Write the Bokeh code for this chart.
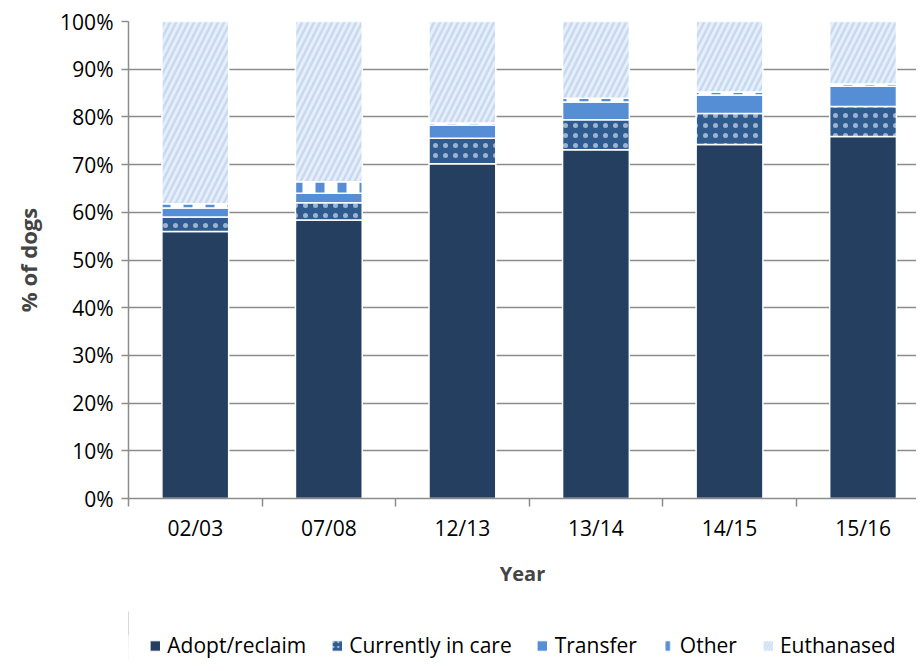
from bokeh.plotting import figure
from bokeh.layouts import column
from bokeh.models import ColumnDataSource, FixedTicker, Range1d, Legend, NumeralTickFormatter
from bokeh.embed import file_html
from bokeh.resources import INLINE

years = ["02/03", "07/08", "12/13", "13/14", "14/15", "15/16"]
adopt = [56.0, 58.4, 70.2, 73.1, 74.2, 75.9]
care = [3.0, 3.6, 5.3, 6.3, 6.5, 6.3]
transfer = [1.9, 2.0, 2.8, 3.7, 3.9, 4.2]
other = [0.9, 2.4, 0.4, 0.8, 0.6, 0.5]
euth = [38.2, 33.6, 21.3, 16.1, 14.8, 13.1]
y_ticks = [0, 10, 20, 30, 40, 50, 60, 70, 80, 90, 100]

series = ["adopt", "care", "transfer", "other", "euth"]
labels = ["Adopt/reclaim", "Currently in care", "Transfer", "Other", "Euthanased"]

fills = ["#243F60", "#2F5B8F", "#558ED5", "#FFFFFF", "#C6D9F1"]
hatches = [" ", "dot", " ", "vertical_line", "right_diagonal_line"]
hatch_colors = ["white", "#B8C9E2", "white", "#558ED5", "white"]
hatch_scales = [8, 10, 8, 22, 12]
hatch_weights = [1, 2.5, 1, 9, 3]
hatch_alphas = [1, 0.8, 1, 1, 0.55]

xpos = [i + 0.5 for i in range(len(years))]
src = ColumnDataSource(dict(x=xpos, adopt=[v / 100 for v in adopt], care=[v / 100 for v in care],
                            transfer=[v / 100 for v in transfer], other=[v / 100 for v in other],
                            euth=[v / 100 for v in euth]))

FONT = "Open Sans"
p = figure(frame_width=788, frame_height=477, output_backend="svg", toolbar_location=None,
           x_range=Range1d(0, 5.9), y_range=Range1d(0, 1.0),
           min_border_left=128, min_border_top=21, min_border_right=0, min_border_bottom=97)
p.outline_line_color = None
p.background_fill_color = "white"
p.border_fill_color = "white"

p.vbar_stack(series, x="x", width=0.5, source=src,
             fill_color=fills, line_color="white", line_width=1.5,
             hatch_pattern=hatches, hatch_color=hatch_colors, hatch_scale=hatch_scales,
             hatch_weight=hatch_weights, hatch_alpha=hatch_alphas)

# y axis
p.yaxis.ticker = FixedTicker(ticks=[v / 100 for v in y_ticks])
p.yaxis.formatter = NumeralTickFormatter(format="0%")
p.yaxis.axis_label = "% of dogs"
p.yaxis.axis_label_text_font = FONT
p.yaxis.axis_label_text_font_style = "bold"
p.yaxis.axis_label_text_font_size = "22px"
p.yaxis.axis_label_standoff = 14
p.yaxis.major_label_text_font = FONT
p.yaxis.major_label_text_font_size = "21px"
p.yaxis.major_label_text_color = "#000000"
p.yaxis.axis_line_color = "#8C8C8C"
p.yaxis.axis_line_width = 1.5
p.yaxis.major_tick_line_color = "#8C8C8C"
p.yaxis.major_tick_line_width = 1.5
p.yaxis.major_tick_out = 7
p.yaxis.major_tick_in = 0
p.yaxis.minor_tick_line_color = None
p.yaxis.major_label_standoff = 8

# x axis
p.xaxis.ticker = FixedTicker(ticks=xpos, minor_ticks=list(range(len(years) + 1)))
p.xaxis.major_label_overrides = {x: y for x, y in zip(xpos, years)}
p.xaxis.axis_label = "Year"
p.xaxis.axis_label_text_font = FONT
p.xaxis.axis_label_text_font_style = "bold"
p.xaxis.axis_label_text_font_size = "20px"
p.xaxis.axis_label_standoff = 15
p.xaxis.major_label_text_font = FONT
p.xaxis.major_label_text_font_size = "21px"
p.xaxis.major_label_text_color = "#000000"
p.xaxis.axis_line_color = "#8C8C8C"
p.xaxis.axis_line_width = 1.5
p.xaxis.major_tick_line_color = None
p.xaxis.minor_tick_line_color = "#8C8C8C"
p.xaxis.minor_tick_line_width = 1.5
p.xaxis.minor_tick_out = 8
p.xaxis.minor_tick_in = 0
p.xaxis.major_label_standoff = 7

p.xgrid.grid_line_color = None
p.ygrid.grid_line_color = "#8C8C8C"
p.ygrid.grid_line_width = 1.5
p.ygrid.level = "underlay"

# legend strip below the chart
q = figure(width=916, height=64, output_backend="svg", toolbar_location=None,
           x_range=Range1d(100, 101), y_range=Range1d(0, 1), min_border=0,
           x_axis_location=None, y_axis_location=None)
q.grid.grid_line_color = None
q.outline_line_color = None
leg_renderers = []
for i, s in enumerate(series):
    r = q.vbar(x="x", top=s, width=0.5, source=src, fill_color=fills[i], line_color="white", line_width=1,
               hatch_pattern=hatches[i], hatch_color=hatch_colors[i], hatch_scale=hatch_scales[i] * 0.5,
               hatch_weight=max(1, hatch_weights[i] * 0.5), hatch_alpha=hatch_alphas[i])
    leg_renderers.append(r)
legend = Legend(items=[(lab, [r]) for lab, r in zip(labels, leg_renderers)],
                orientation="horizontal", location="bottom_center",
                label_text_font=FONT, label_text_font_size="21px", label_text_color="#000000",
                glyph_width=13, glyph_height=13, spacing=24, border_line_color=None,
                background_fill_alpha=0, margin=0, padding=0, label_standoff=6)
q.add_layout(legend, "center")

open("out.html", "w").write(file_html(column(p, q, spacing=0), INLINE))
